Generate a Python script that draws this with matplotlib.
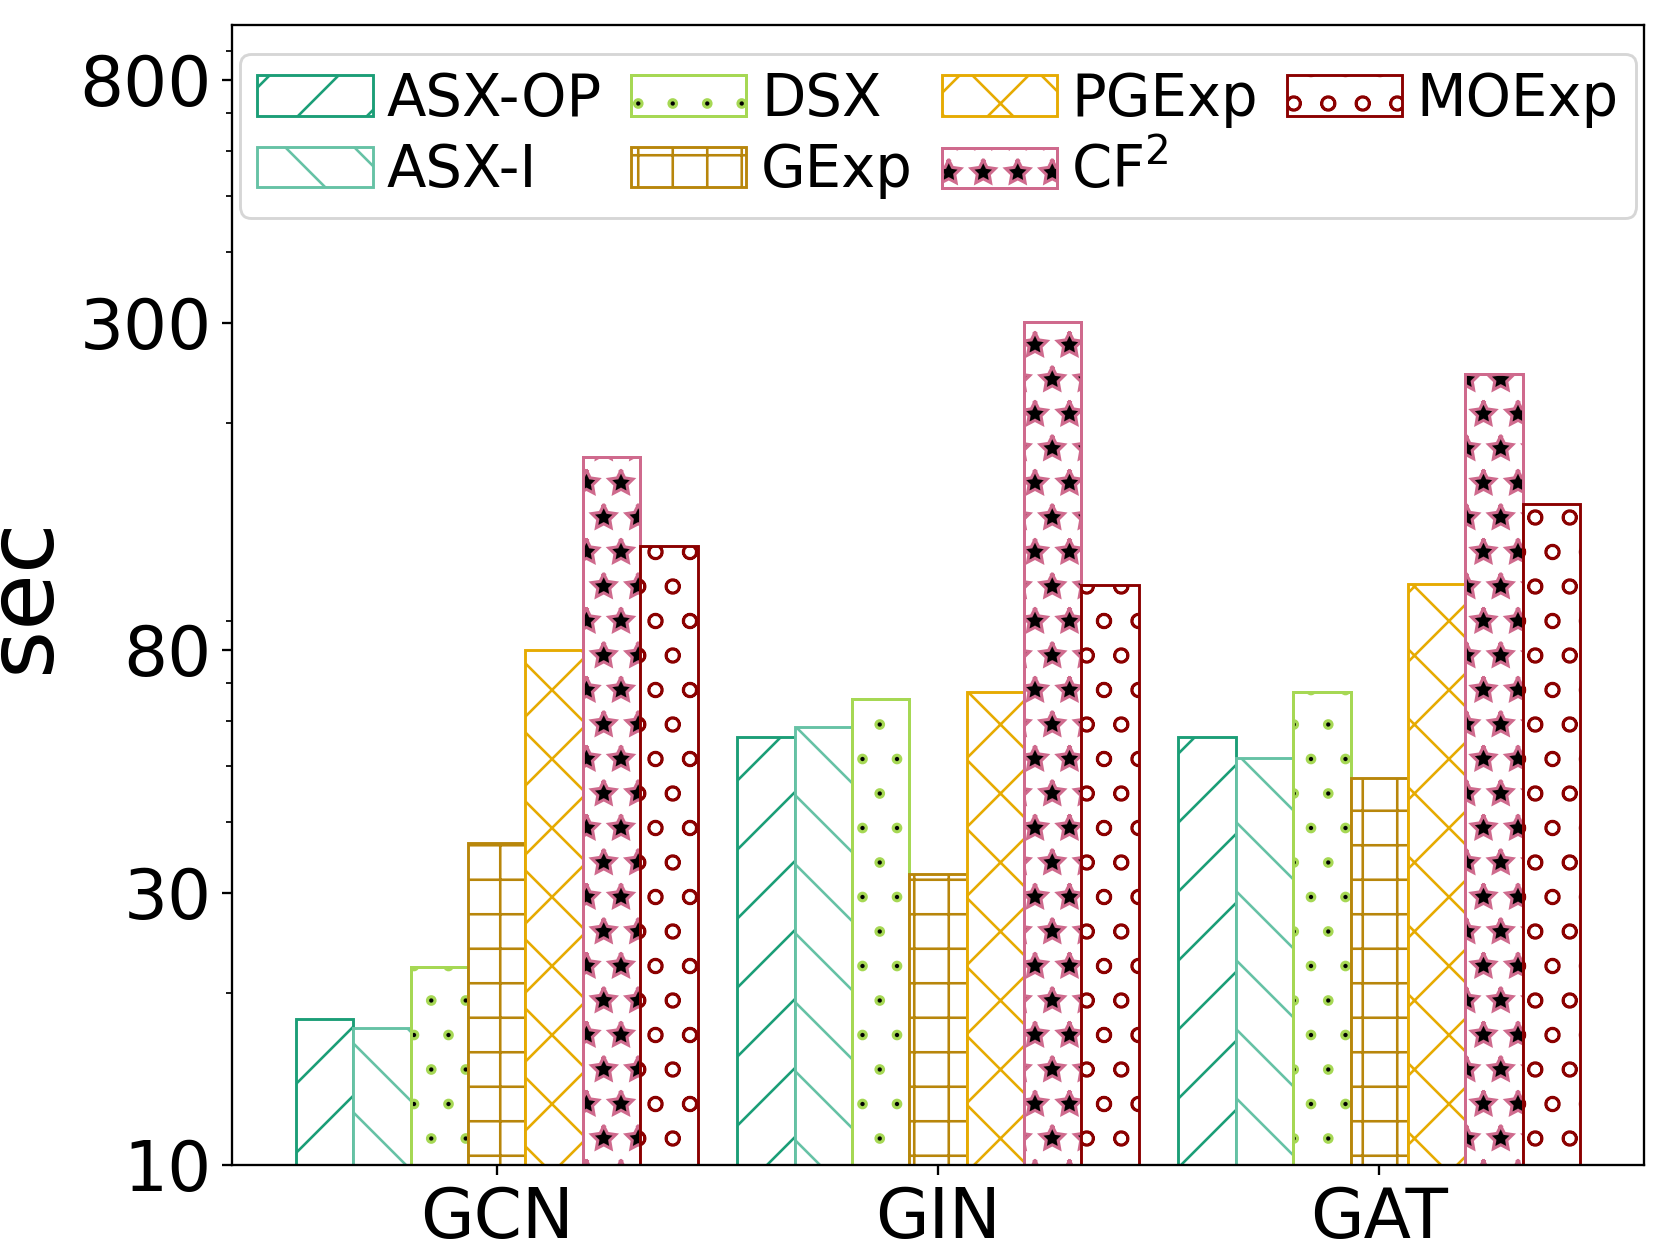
import numpy as np
import matplotlib
matplotlib.use('Agg')
import matplotlib.pyplot as plt
import matplotlib.hatch as mhatch
from matplotlib.path import Path
from matplotlib.patches import Rectangle
from matplotlib.legend_handler import HandlerTuple
from matplotlib.ticker import FixedLocator, FixedFormatter, NullFormatter

models = ['GCN', 'GIN', 'GAT']
methods = ['ASX-OP', 'ASX-I', 'DSX', 'GExp', 'PGExp', 'CF$^2$', 'MOExp']

# runtime in seconds, one list per method (GCN, GIN, GAT)
asx_op = [18.0, 56.3, 56.3]
asx_i = [17.4, 58.5, 51.7]
dsx = [22.2, 65.6, 67.6]
gexp = [36.7, 32.3, 47.6]
pgexp = [80.0, 67.6, 104.6]
cf2 = [174.5, 300.8, 243.5]
moexp = [121.8, 104.1, 144.0]
values = [asx_op, asx_i, dsx, gexp, pgexp, cf2, moexp]

yticks = [10, 30, 80, 300, 800]

colors = ['#1b9e77', '#66c2a5', '#a6d854', '#b8860b', '#e6ab02', '#cf6a8d', '#8b0000']
hatches = ['/', '\\', '.', '+', 'x', '*', 'o']


# smaller black cores drawn on the same grid as '.' and '*'
# (gives the "black symbol with coloured rim" look)
class CoreDots(mhatch.SmallFilledCircles):
    size = 0.06

    def __init__(self, hatch, density):
        self.num_rows = hatch.count('a') * density
        mhatch.Circles.__init__(self, hatch, density)


class CoreStars(mhatch.Stars):
    size = 0.26

    def __init__(self, hatch, density):
        self.num_rows = hatch.count('b') * density
        path = Path.unit_regular_star(5)
        self.shape_vertices = path.vertices
        self.shape_codes = np.full(len(self.shape_vertices), Path.LINETO,
                                   dtype=Path.code_type)
        self.shape_codes[0] = Path.MOVETO
        mhatch.Shapes.__init__(self, hatch, density)


core = {'.': '.', '*': '*'}
rim_lw = {'.': 2.0, '*': 2.0}
try:
    mhatch._hatch_types.extend([CoreDots, CoreStars])
    mhatch._validate_hatch_pattern = lambda h: None
    mhatch.get_path('a', 6)
    mhatch.get_path('b', 6)
    core = {'.': 'a', '*': 'b'}
    rim_lw = {'.': 1.3, '*': 1.4}
except Exception:
    pass

line_hlw = 0.9

W, H = 1661, 1246
dpi = 207.67
fig = plt.figure(figsize=(W / dpi, H / dpi), dpi=dpi, facecolor='white')
ax = fig.add_axes([232 / W, 1 - 1164.7 / H, (1644 - 232) / W, (1164.7 - 24.7) / H])

width = 0.13
x = np.arange(len(models))


def set_hlw(patches, lw):
    for p in patches:
        if hasattr(p, 'set_hatch_linewidth'):
            p.set_hatch_linewidth(lw)


handles = []
for i, (vals, col, hat) in enumerate(zip(values, colors, hatches)):
    xs = x + (i - 3) * width
    if hat not in core:
        with plt.rc_context({'hatch.linewidth': line_hlw}):
            b = ax.bar(xs, vals, width, facecolor='white', edgecolor=col,
                       hatch=hat, linewidth=1.0)
        set_hlw(b, line_hlw)
        handles.append(b.patches[0])
    else:
        lw = rim_lw[hat]
        with plt.rc_context({'hatch.linewidth': lw}):
            b1 = ax.bar(xs, vals, width, facecolor='white', edgecolor=col,
                        hatch=hat, linewidth=1.0)
        set_hlw(b1, lw)
        with plt.rc_context({'hatch.linewidth': 0.05}):
            b2 = ax.bar(xs, vals, width, facecolor='none', edgecolor='black',
                        hatch=core[hat], linewidth=0)
        set_hlw(b2, 0.05)
        b3 = ax.bar(xs, vals, width, fill=False, edgecolor=col, linewidth=1.0)
        handles.append((b1.patches[0], b2.patches[0], b3.patches[0]))

ax.set_yscale('log')
ax.set_ylim(10, 1000)
ax.set_xlim(-0.6, 2.6)
ax.yaxis.set_major_locator(FixedLocator(yticks))
ax.yaxis.set_major_formatter(FixedFormatter([str(t) for t in yticks]))
ax.yaxis.set_minor_formatter(NullFormatter())
ax.set_xticks(x)
ax.set_xticklabels(models)
ax.tick_params(axis='both', which='major', labelsize=24)
ax.set_ylabel('sec', fontsize=32)

leg = ax.legend(handles, methods, loc='upper center', ncol=4, fontsize=20,
                handletextpad=0.25, columnspacing=0.5, borderpad=0.3,
                labelspacing=0.25,
                handler_map={tuple: HandlerTuple(ndivide=1)})

# legend copies of the patches: restore the per-layer hatch widths
for p in leg.findobj(Rectangle):
    h = p.get_hatch()
    if not h or not hasattr(p, 'set_hatch_linewidth'):
        continue
    ec = p.get_edgecolor()
    if ec[0] < 0.01 and ec[1] < 0.01 and ec[2] < 0.01:
        p.set_hatch_linewidth(0.05)
    elif h in rim_lw:
        p.set_hatch_linewidth(rim_lw[h])
    else:
        p.set_hatch_linewidth(line_hlw)

fig.savefig('out.png', dpi=dpi, facecolor='white')
